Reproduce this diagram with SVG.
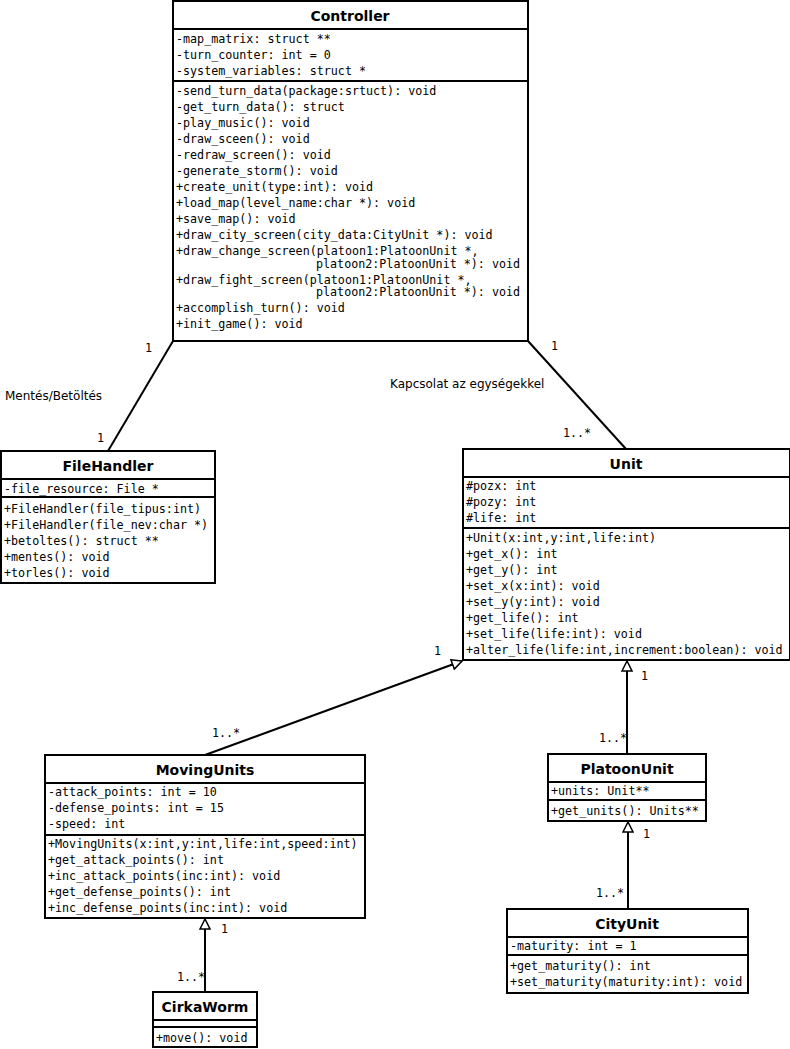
<svg xmlns="http://www.w3.org/2000/svg" width="790" height="1049" viewBox="0 0 790 1049">
<style>
.b{fill:#fff;stroke:#000;stroke-width:2}
.l{stroke:#000;stroke-width:2}
.t{font-family:"DejaVu Sans",sans-serif;font-weight:bold;font-size:14px;text-anchor:middle}
.m{font-family:"DejaVu Sans Mono",monospace;font-size:11.7px}
.s{font-family:"DejaVu Sans",sans-serif;font-size:12px}
.c{stroke:#000;stroke-width:2;fill:none}
</style>
<defs>
<marker id="tri" viewBox="0 0 12 12" refX="11" refY="6" markerWidth="12" markerHeight="12" markerUnits="userSpaceOnUse" orient="auto"><path d="M1,1 L11,6 L1,11 Z" fill="#fff" stroke="#000" stroke-width="1.5"/></marker>
</defs>
<g id="connectors">
<path class="c" d="M173,341 L108,451"/>
<path class="c" d="M528,341 L626,449"/>
<path class="c" d="M205,755 L462,661" marker-end="url(#tri)"/>
<path class="c" d="M627,754 L627,661" marker-end="url(#tri)"/>
<path class="c" d="M628,909 L628,822" marker-end="url(#tri)"/>
<path class="c" d="M205,992 L205,919" marker-end="url(#tri)"/>
<text class="m" x="145" y="352">1</text>
<text class="s" x="5" y="400">Mentés/Betöltés</text>
<text class="m" x="97" y="442">1</text>
<text class="m" x="551" y="350">1</text>
<text class="s" x="390" y="388">Kapcsolat az egységekkel</text>
<text class="m" x="563" y="437">1..*</text>
<text class="m" x="530" y="479">1</text>
<text class="m" x="434" y="655">1</text>
<text class="m" x="212" y="737">1..*</text>
<text class="m" x="641" y="680">1</text>
<text class="m" x="599" y="742">1..*</text>
<text class="m" x="643" y="838">1</text>
<text class="m" x="596" y="897">1..*</text>
<text class="m" x="221" y="933">1</text>
<text class="m" x="177" y="981">1..*</text>
</g>
<g id="Controller">
<rect class="b" x="173" y="1" width="355" height="340"/>
<line class="l" x1="173" y1="29" x2="528" y2="29"/>
<line class="l" x1="173" y1="81" x2="528" y2="81"/>
<text class="t" x="350" y="21">Controller</text>
<text class="m" x="176"><tspan x="176" y="43">-map_matrix: struct **</tspan><tspan x="176" y="59">-turn_counter: int = 0</tspan><tspan x="176" y="75">-system_variables: struct *</tspan>
<tspan x="176" y="95">-send_turn_data(package:srtuct): void</tspan><tspan x="176" y="111">-get_turn_data(): struct</tspan><tspan x="176" y="127">-play_music(): void</tspan><tspan x="176" y="143">-draw_sceen(): void</tspan><tspan x="176" y="159">-redraw_screen(): void</tspan><tspan x="176" y="175">-generate_storm(): void</tspan><tspan x="176" y="191">+create_unit(type:int): void</tspan><tspan x="176" y="207">+load_map(level_name:char *): void</tspan><tspan x="176" y="223">+save_map(): void</tspan><tspan x="176" y="239">+draw_city_screen(city_data:CityUnit *): void</tspan><tspan x="176" y="255">+draw_change_screen(platoon1:PlatoonUnit *,</tspan><tspan x="316" y="268">platoon2:PlatoonUnit *): void</tspan><tspan x="176" y="284">+draw_fight_screen(platoon1:PlatoonUnit *,</tspan><tspan x="316" y="296">platoon2:PlatoonUnit *): void</tspan><tspan x="176" y="312">+accomplish_turn(): void</tspan><tspan x="176" y="328">+init_game(): void</tspan></text>
</g>
<g id="FileHandler">
<rect class="b" x="1" y="451" width="214" height="132"/>
<line class="l" x1="1" y1="479" x2="215" y2="479"/>
<line class="l" x1="1" y1="497" x2="215" y2="497"/>
<text class="t" x="108" y="471">FileHandler</text>
<text class="m"><tspan x="4" y="493">-file_resource: File *</tspan><tspan x="4" y="513">+FileHandler(file_tipus:int)</tspan><tspan x="4" y="529">+FileHandler(file_nev:char *)</tspan><tspan x="4" y="545">+betoltes(): struct **</tspan><tspan x="4" y="561">+mentes(): void</tspan><tspan x="4" y="577">+torles(): void</tspan></text>
</g>
<g id="Unit">
<rect class="b" x="463" y="449" width="327" height="211"/>
<line class="l" x1="463" y1="477" x2="790" y2="477"/>
<line class="l" x1="463" y1="528" x2="790" y2="528"/>
<text class="t" x="626" y="469">Unit</text>
<text class="m"><tspan x="466" y="490">#pozx: int</tspan><tspan x="466" y="506">#pozy: int</tspan><tspan x="466" y="522">#life: int</tspan><tspan x="466" y="542">+Unit(x:int,y:int,life:int)</tspan><tspan x="466" y="558">+get_x(): int</tspan><tspan x="466" y="574">+get_y(): int</tspan><tspan x="466" y="590">+set_x(x:int): void</tspan><tspan x="466" y="606">+set_y(y:int): void</tspan><tspan x="466" y="622">+get_life(): int</tspan><tspan x="466" y="638">+set_life(life:int): void</tspan><tspan x="466" y="654">+alter_life(life:int,increment:boolean): void</tspan></text>
</g>
<g id="MovingUnits">
<rect class="b" x="45" y="755" width="320" height="163"/>
<line class="l" x1="45" y1="783" x2="365" y2="783"/>
<line class="l" x1="45" y1="835" x2="365" y2="835"/>
<text class="t" x="205" y="775">MovingUnits</text>
<text class="m"><tspan x="48" y="796">-attack_points: int = 10</tspan><tspan x="48" y="812">-defense_points: int = 15</tspan><tspan x="48" y="828">-speed: int</tspan><tspan x="48" y="848">+MovingUnits(x:int,y:int,life:int,speed:int)</tspan><tspan x="48" y="864">+get_attack_points(): int</tspan><tspan x="48" y="880">+inc_attack_points(inc:int): void</tspan><tspan x="48" y="896">+get_defense_points(): int</tspan><tspan x="48" y="912">+inc_defense_points(inc:int): void</tspan></text>
</g>
<g id="PlatoonUnit">
<rect class="b" x="548" y="754" width="158" height="67"/>
<line class="l" x1="548" y1="782" x2="706" y2="782"/>
<line class="l" x1="548" y1="800" x2="706" y2="800"/>
<text class="t" x="627" y="774">PlatoonUnit</text>
<text class="m"><tspan x="551" y="795">+units: Unit**</tspan><tspan x="551" y="815">+get_units(): Units**</tspan></text>
</g>
<g id="CityUnit">
<rect class="b" x="507" y="909" width="241" height="84"/>
<line class="l" x1="507" y1="937" x2="748" y2="937"/>
<line class="l" x1="507" y1="955" x2="748" y2="955"/>
<text class="t" x="627" y="929">CityUnit</text>
<text class="m"><tspan x="510" y="950">-maturity: int = 1</tspan><tspan x="510" y="970">+get_maturity(): int</tspan><tspan x="510" y="986">+set_maturity(maturity:int): void</tspan></text>
</g>
<g id="CirkaWorm">
<rect class="b" x="153" y="992" width="104" height="55"/>
<line class="l" x1="153" y1="1020" x2="257" y2="1020"/>
<line class="l" x1="153" y1="1027" x2="257" y2="1027"/>
<text class="t" x="205" y="1012">CirkaWorm</text>
<text class="m" x="156" y="1042">+move(): void</text>
</g>
</svg>
